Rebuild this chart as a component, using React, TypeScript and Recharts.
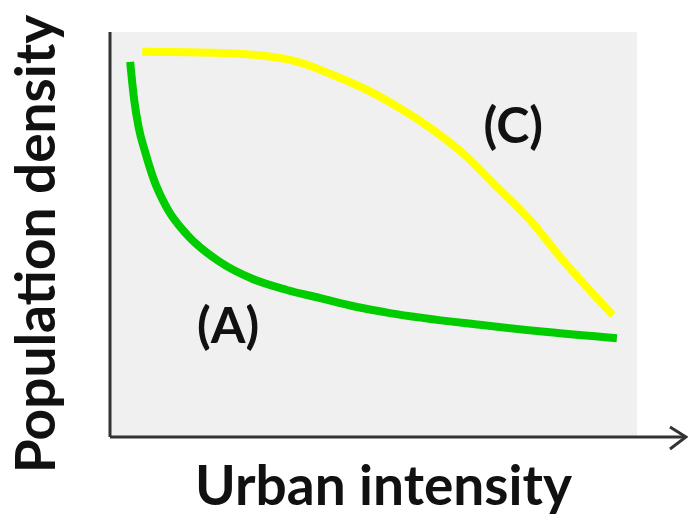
import React from 'react';
import {
  ComposedChart,
  Line,
  XAxis,
  YAxis,
  ReferenceArea,
  ReferenceLine,
  ReferenceDot,
  Label
} from 'recharts';

// curve (A): steep drop then levelling off
const greenX = [3.5, 4.2, 5.0, 6.1, 7.5, 9.9, 13.4, 19.1, 24.8, 30.7, 36.5, 42.9, 48.6, 64.2, 75.9, 88.0];
const greenY = [92.6, 83.2, 76.3, 70.4, 64.0, 56.5, 49.9, 43.2, 39.0, 36.3, 34.3, 32.1, 30.6, 27.7, 25.9, 24.4];

// curve (C): flat then sigmoid decline
const yellowX = [5.6, 19.6, 31.3, 38.7, 44.6, 50.3, 56.1, 62.0, 66.5, 72.9, 78.6, 82.8, 87.3];
const yellowY = [95.1, 94.8, 93.1, 89.4, 85.7, 81.2, 75.8, 69.1, 62.7, 53.6, 43.7, 37.0, 30.1];

const curveLabels = ['(A)', '(C)'];
const curveLabelX = [20.5, 70.0];
const curveLabelY = [27.7, 77.0];

const panelRight = 91.5;

const FONT = 'Lato, "Open Sans", sans-serif';
const AXIS_COLOR = '#333333';

const greenData = greenX.map((x, i) => ({ x, y: greenY[i] }));
const yellowData = yellowX.map((x, i) => ({ x, y: yellowY[i] }));

const ArrowAxis = (props: any) => {
  const { x1, y1, x2 } = props;
  return (
    <g>
      <line x1={x1} y1={y1} x2={x2} y2={y1} stroke={AXIS_COLOR} strokeWidth={3} />
      <polyline
        points={`${x2 - 16},${y1 - 10} ${x2},${y1} ${x2 - 16},${y1 + 12}`}
        fill="none"
        stroke={AXIS_COLOR}
        strokeWidth={3}
      />
    </g>
  );
};

export default function App() {
  return (
    <div style={{ position: 'absolute', left: 0, top: 0, background: '#fff' }}>
      <ComposedChart width={688} height={519} margin={{ top: 32, right: 2, bottom: 82, left: 10 }}>
        <XAxis type="number" dataKey="x" domain={[0, 100]} hide />
        <YAxis type="number" dataKey="y" domain={[0, 100]} width={100} tick={false} axisLine={false} tickLine={false} />
        <ReferenceArea x1={0} x2={panelRight} y1={0} y2={100} fill="#f0f0f0" fillOpacity={1} stroke="none" />
        <ReferenceLine x={0} stroke={AXIS_COLOR} strokeWidth={3} />
        <ReferenceLine y={0} shape={ArrowAxis} />
        <Line
          data={greenData}
          dataKey="y"
          type="monotone"
          stroke="#00cc00"
          strokeWidth={8}
          dot={false}
          activeDot={false}
          isAnimationActive={false}
        />
        <Line
          data={yellowData}
          dataKey="y"
          type="monotone"
          stroke="#ffff00"
          strokeWidth={8}
          dot={false}
          activeDot={false}
          isAnimationActive={false}
        />
        {curveLabels.map((t, i) => (
          <ReferenceDot key={t} x={curveLabelX[i]} y={curveLabelY[i]} r={0} fill="none" stroke="none">
            <Label value={t} position="center" fontSize={50} fontWeight={700} fill="#111" fontFamily={FONT} />
          </ReferenceDot>
        ))}
      </ComposedChart>
      <svg width={688} height={519} style={{ position: 'absolute', left: 0, top: 0, pointerEvents: 'none' }}>
        <text x={383.5} y={505} textAnchor="middle" fontSize={55} fontWeight={700} fill="#111" fontFamily={FONT}>
          Urban intensity
        </text>
        <text
          x={55}
          y={244}
          textAnchor="middle"
          fontSize={55}
          fontWeight={700}
          fill="#111"
          fontFamily={FONT}
          transform="rotate(-90 55 244)"
        >
          Population density
        </text>
      </svg>
    </div>
  );
}
